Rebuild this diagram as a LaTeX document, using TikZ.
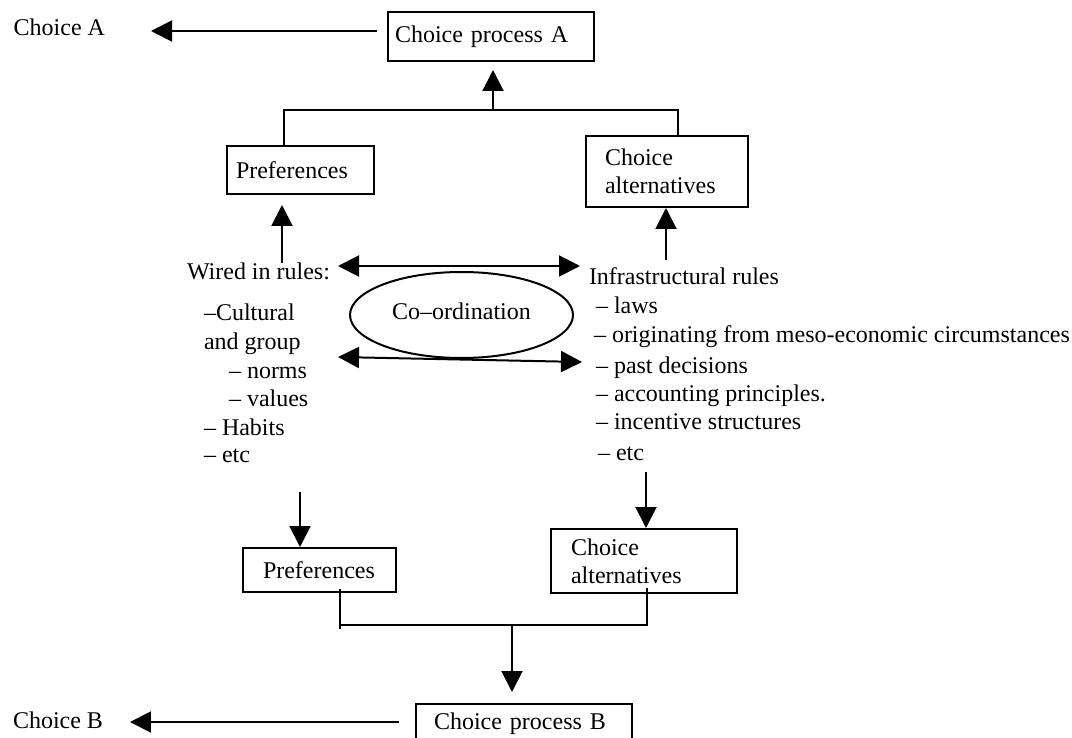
\documentclass[tikz,border=0pt]{standalone}
\usepackage{fontspec}
\setmainfont{Liberation Serif}
\usetikzlibrary{arrows.meta,shapes.geometric}

\begin{document}
\begin{tikzpicture}[x=0.5pt,y=-0.5pt,line width=1pt,
  every node/.style={font=\fontsize{12pt}{14pt}\selectfont},
  box/.style={draw,rectangle,align=left,inner ysep=0pt},
  txt/.style={inner sep=0pt,anchor=base west},
  arr/.style={-{Triangle[length=10.5pt,width=10.5pt]}},
  darr/.style={{Triangle[length=10.5pt,width=10.5pt]}-{Triangle[length=10.5pt,width=10.5pt]}}]
  \useasboundingbox (0,0) rectangle (1072,738);

  % boxes
  \node[box,text width=96pt,inner xsep=3.5pt,minimum height=24.5pt] (cpa) at (491,36.5) {Choice process A};
  \node[box,text width=64.5pt,inner xsep=4.5pt,minimum height=24pt] (pa) at (300.5,170) {Preferences};
  \node[box,text width=62pt,inner xsep=9.5pt,minimum height=35.5pt] (ca) at (667,171.5) {Choice\\alternatives};
  \node[box,text width=56.5pt,inner xsep=10pt,minimum height=22pt] (pb) at (319.5,570) {Preferences};
  \node[box,text width=73pt,inner xsep=10pt,minimum height=32pt] (cb) at (644,561) {Choice\\alternatives};
  \node[box,text width=90pt,inner xsep=9pt,text height=12.5pt,text depth=12pt,anchor=north] (cpb) at (524,703) {Choice process B};
  \node[draw,ellipse,inner sep=0pt,minimum width=111.5pt,minimum height=43pt] (co) at (461.5,315) {\raisebox{3.5pt}{Co–ordination}\hspace{6.5pt}};

  % texts
  \node[txt] (chA) at (12.7,36) {Choice A};
  \node[txt] (chB) at (12,728) {Choice B};
  \node[txt] (wir) at (186,279) {Wired in rules:};
  \node[txt] (l1) at (203,321) {–Cultural};
  \node[txt] (l2) at (203,350) {and group};
  \node[txt] (l3) at (228,378) {– norms};
  \node[txt] (l4) at (228,406) {– values};
  \node[txt] (l5) at (203,435) {– Habits};
  \node[txt] (l6) at (203,462) {– etc};
  \node[txt] (inf) at (588,285) {Infrastructural rules};
  \node[txt] (r1) at (595,314) {– laws};
  \node[txt] (r2) at (593,342) {– originating from meso-economic circumstances};
  \node[txt] (r3) at (595,373) {– past decisions};
  \node[txt] (r4) at (595,401) {– accounting principles.};
  \node[txt] (r5) at (595,429) {– incentive structures};
  \node[txt] (r6) at (597,460) {– etc};

  \coordinate (ja) at (493,110);
  \coordinate (jl) at (284,110);
  \coordinate (jr) at (678,110);
  \coordinate (wa) at (282,263);
  \coordinate (ia) at (666,260);
  \coordinate (wb) at (300,492);
  \coordinate (ib) at (646,472);
  \coordinate (jbl) at (340,625);
  \coordinate (jbr) at (647,625);
  \coordinate (jb) at (512,625);
  \coordinate (d1) at (338,266);
  \coordinate (d2) at (580,266);
  \coordinate (d3) at (338,357);
  \coordinate (d4) at (582,362);

  \draw (pa.north -| jl) -- (jl) -- (jr) -- (ca.north -| jr);
  \draw ([yshift=2pt]pb.south -| jbl) -- ([yshift=-2pt]jbl);
  \draw (jbl) -- (jbr) -- ([yshift=3pt]cb.south -| jbr);
  \draw[arr,shorten >=4pt] (ja) -- (cpa.south -| ja);
  \draw[arr,shorten >=5pt] (wa) -- (pa.south -| wa);
  \draw[arr,shorten >=5.5pt] (jb) -- (cpb.north -| jb);
  \draw[arr,shorten <=5pt,shorten >=22.5pt] (cpa.west |- 0,31) -- (chA.east |- 0,31);
  \draw[arr,shorten <=8pt,shorten >=13pt] (cpb.west |- 0,722) -- (chB.east |- 0,722);
  \foreach \from/\to in {ia/ca.south -| ia,wb/pb.north -| wb,ib/cb.north -| ib}
    \draw[arr] (\from) -- (\to);
  \foreach \from/\to in {d1/d2,d3/d4}
    \draw[darr] (\from) -- (\to);

\end{tikzpicture}
\end{document}
